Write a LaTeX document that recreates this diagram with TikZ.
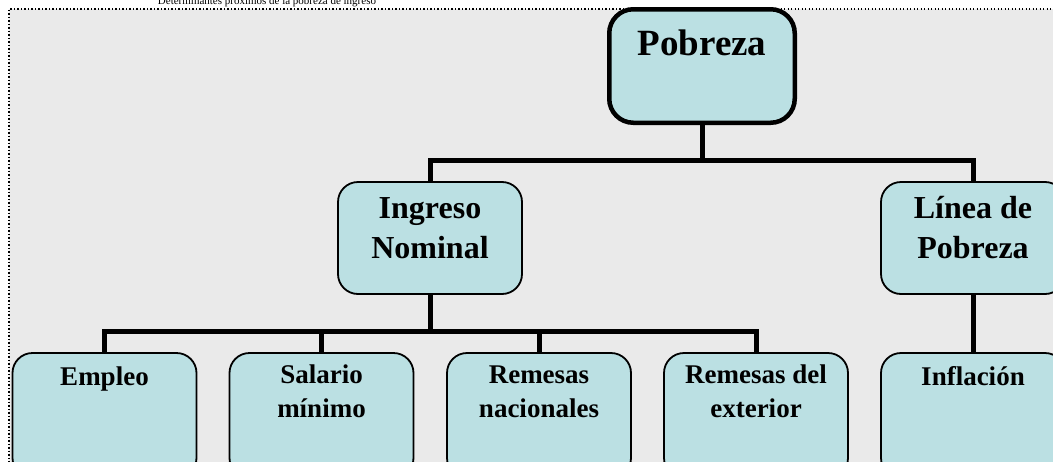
\documentclass[tikz,border=0pt]{standalone}
\usepackage{fontspec}
\setmainfont{Liberation Serif}
\definecolor{bggray}{HTML}{EAEAEA}
\definecolor{boxblue}{HTML}{BBE0E3}
\tikzset{
  boxA/.style={draw, line width=4.5pt, rounded corners=24pt, fill=boxblue,
    minimum width=185.5pt, minimum height=113.5pt, inner sep=0pt},
  boxB/.style={draw, line width=1.8pt, rounded corners=20pt, fill=boxblue,
    minimum width=184pt, minimum height=112pt, inner sep=0pt},
  boxC/.style={boxB, minimum height=125pt},
  conn/.style={line width=5pt},
  tA/.style={font=\bfseries\fontsize{37}{44}\selectfont, anchor=base, inner sep=0pt},
  tB/.style={font=\bfseries\fontsize{32}{40}\selectfont, anchor=north, inner sep=0pt, align=center},
  tC/.style={font=\bfseries\fontsize{27}{34}\selectfont, anchor=north, inner sep=0pt, align=center},
  ttl/.style={font=\fontsize{11}{13}\selectfont, anchor=base, inner sep=0pt}
}
\begin{document}
\begin{tikzpicture}[x=1pt, y=-1pt]
\useasboundingbox (0,0) rectangle (1053,461);
\fill[white] (0,0) rectangle (1053,461);
\fill[bggray] (9,9) rectangle (1070,480);
\draw[line width=1.1pt, dash pattern=on 1.1pt off 2.4pt] (9,480) -- (9,9) -- (1070,9);
\node[ttl] (title) at (267,4) {Determinantes próximos de la pobreza de ingreso};

% boxes
\node[boxA] (pob) at (702,66) {};
\node[boxB] (ing) at (430,238) {};
\node[boxB] (lin) at (973,238) {};
\node[boxC] (emp) at (104.5,415.5) {};
\node[boxC] (sal) at (321.5,415.5) {};
\node[boxC] (rnac) at (539,415.5) {};
\node[boxC] (rext) at (756,415.5) {};
\node[boxC] (inf) at (973,415.5) {};

% connectors
\coordinate (j1) at (702,160);
\coordinate (j2) at (430,331);
\draw[conn] (pob.south) -- (j1);
\draw[conn] (ing.north) |- (j1) -| (lin.north);
\draw[conn] (ing.south) -- (j2);
\draw[conn] (emp.north) |- (j2) -| (rext.north);
\draw[conn] (sal.north) -- (sal.north |- j2);
\draw[conn] (rnac.north) -- (rnac.north |- j2);
\draw[conn] (lin.south) -- (inf.north);

% texts
\node[tA] (tpob) at (702,55) {Pobreza};
\node[tB] (ting) at (430,190) {\strut Ingreso\\\strut Nominal};
\node[tB] (tlin) at (973,190) {\strut Línea de\\\strut Pobreza};
\node[tC] (temp) at (104.5,361.2) {\strut Empleo};
\node[tC] (tsal) at (321.5,359.2) {\strut Salario\\\strut mínimo};
\node[tC] (trnac) at (539,359.2) {\strut Remesas\\\strut nacionales};
\node[tC] (trext) at (756,359.2) {\strut Remesas del\\\strut exterior};
\node[tC] (tinf) at (973,361.2) {\strut Inflación};
\end{tikzpicture}
\end{document}
